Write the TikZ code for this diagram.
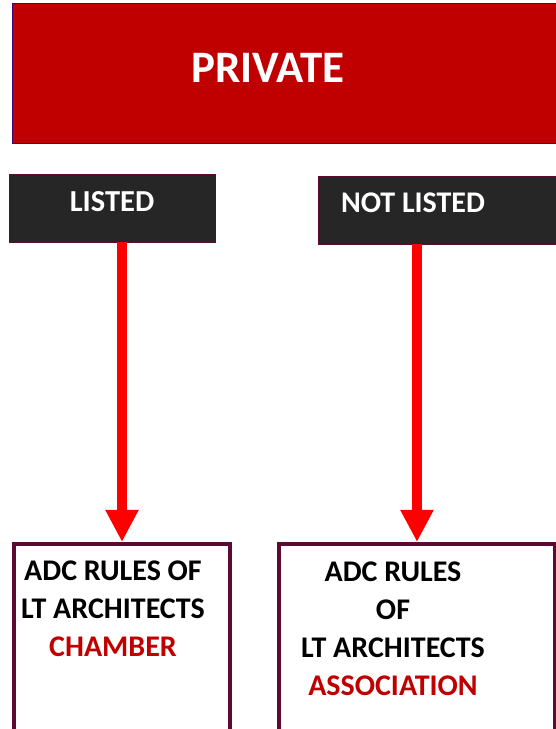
\documentclass[tikz,border=0pt]{standalone}
\usepackage{fontspec}
\setmainfont{Carlito}
\usetikzlibrary{arrows.meta}

\definecolor{bannerred}{HTML}{C00000}
\definecolor{darkfill}{HTML}{262626}
\definecolor{maroonline}{HTML}{5C0A33}
\definecolor{arrowred}{HTML}{FF0000}

\tikzset{
  banner/.style={fill=bannerred, draw=maroonline!70!blue, line width=0.8pt,
    minimum width=#1, minimum height=140pt, inner sep=0pt},
  tagbox/.style={fill=darkfill, draw=maroonline, line width=0.8pt,
    minimum width=#1, minimum height=68pt, inner sep=0pt},
  rulebox/.style={fill=white, draw=maroonline, line width=4pt,
    minimum width=#1, minimum height=200pt, inner sep=0pt},
  whitetext/.style={text=white, inner sep=0pt, anchor=base},
  ruletext/.style={inner sep=0pt, align=center, anchor=base,
    font=\fontsize{30}{38}\selectfont\bfseries},
  flow/.style={draw=arrowred, line width=10pt,
    -{Triangle[length=32pt, width=31pt]}},
}

\begin{document}
\begin{tikzpicture}[x=1pt, y=1pt]
  \useasboundingbox (0,0) rectangle (555,729);

  % heading bar
  \node[banner=580pt] (private) at (302,656) {};
  \node[whitetext, font=\fontsize{45}{54}\selectfont\bfseries] (privatetext) at (268,646) {PRIVATE};

  % the two categories
  \node[tagbox=206pt] (listed) at (112,521) {};
  \node[whitetext, font=\fontsize{30.5}{37}\selectfont\bfseries] (listedtext) at (112,517) {LISTED};
  \node[tagbox=280pt] (notlisted) at (458,519) {};
  \node[whitetext, font=\fontsize{30}{37}\selectfont\bfseries] (notlistedtext) at (413,516) {NOT LISTED};

  % the rule books (the base anchor sits on the last line)
  \node[rulebox=216pt] (chamber) at (122,85) {};
  \node[ruletext] (chambertext) at (113,72)
    {ADC RULES OF\\LT ARCHITECTS\\\textcolor{bannerred}{CHAMBER}};
  \node[rulebox=276pt] (association) at (417,85) {};
  \node[ruletext] (associationtext) at (393,34)
    {ADC RULES\\OF\\LT ARCHITECTS\\\textcolor{bannerred}{ASSOCIATION}};

  % connectors
  \draw[flow] (chamber.north |- listed.south) -- (chamber.north);
  \draw[flow] (association.north |- notlisted.south) -- (association.north);
\end{tikzpicture}
\end{document}
